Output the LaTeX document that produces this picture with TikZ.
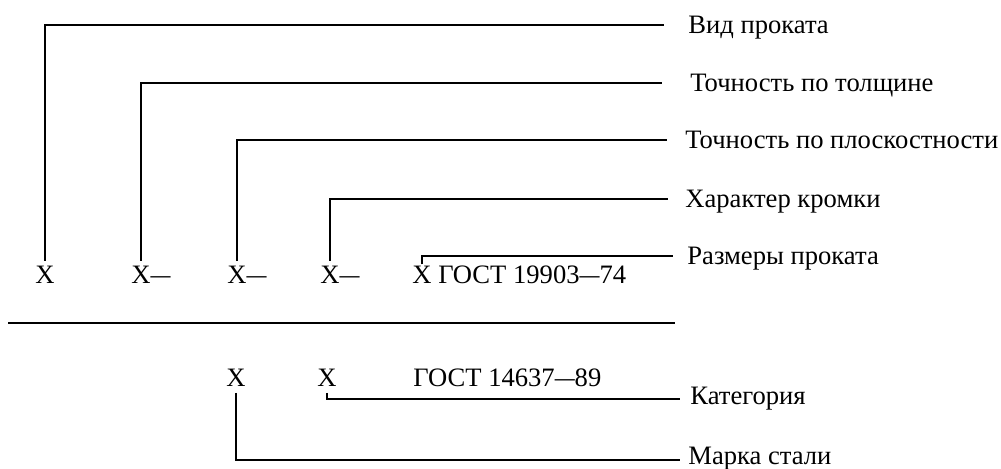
\documentclass[tikz,border=0pt]{standalone}
\usepackage{fontspec}
\setmainfont{Liberation Serif}
\newcommand{\dsh}{\scalebox{0.75}[1]{—}}

\begin{document}
\begin{tikzpicture}
   [
   x=0.5pt, y=-0.5pt,
   xsign/.style={anchor=base, inner sep=0pt, outer ysep=3pt, font=\fontsize{13.3}{15}\selectfont},
   gosttext/.style={anchor=base west, inner sep=0pt, font=\fontsize{13.3}{15}\selectfont},
   labeltext/.style={anchor=west, inner sep=0pt, text height=9pt, text depth=0pt, font=\fontsize{13.3}{15}\selectfont},
   leader/.style={draw=black, line width=0.7pt},
   heavy/.style={draw=black, line width=1.1pt},
   ]
 \useasboundingbox (0,0) rectangle (1001,469);
 % upper designation
 \node at (45,284) [xsign] (x1) {X};
 \node at (141,284) [xsign] (x2) {X\rlap{\dsh}};
 \node at (237,284) [xsign] (x3) {X\rlap{\dsh}};
 \node at (330,284) [xsign] (x4) {X\rlap{\dsh}};
 \node at (422,284) [xsign] (x5) {X\rlap{ ГОСТ 19903\dsh74}};
 % lower designation
 \node at (236,387) [xsign] (x6) {X};
 \node at (327,387) [xsign] (x7) {X};
 \node at (413,387) [gosttext] (gost) {ГОСТ 14637\dsh89};
 % labels
 \node at (688,25) [labeltext] (vid) {Вид проката};
 \node at (690,83) [labeltext] (tolsh) {Точность по толщине};
 \node at (685,140) [labeltext] (plosk) {Точность по плоскостности};
 \node at (685,199) [labeltext] (krom) {Характер кромки};
 \node at (687,256) [labeltext] (razm) {Размеры проката};
 \node at (690,396) [labeltext] (kat) {Категория};
 \node at (688,456) [labeltext] (marka) {Марка стали};
 % leaders
 \draw [leader, shorten >=12pt] (x1.north) |- (vid.west);
 \draw [leader, shorten >=14pt] (x2.north) |- (tolsh.west);
 \draw [leader, shorten >=9pt] (x3.north) |- (plosk.west);
 \draw [leader, shorten >=8.5pt] (x4.north) |- (krom.west);
 \draw [leader, shorten >=7pt, shorten <=-2pt] (x5.north) |- (razm.west);
 \draw [leader, shorten >=5pt] (x7.south) |- ([yshift=-1.5pt]kat.west);
 \draw [leader, shorten >=4pt] (x6.south) |- ([yshift=-2pt]marka.west);
 \draw [heavy] (47,25) -- (247,25);
 \draw [heavy] (143,83) -- (238,83);
 \draw [heavy] (610,399) -- (637,399);
 \draw [heavy] (595,460) -- (665,460);
 % dividing rule
 \draw [leader] (8,323) -- (675,323);
 \draw [heavy] (8,323) -- (52,323);
 \draw [heavy] (144,323) -- (200,323);
   \end{tikzpicture}
\end{document}
